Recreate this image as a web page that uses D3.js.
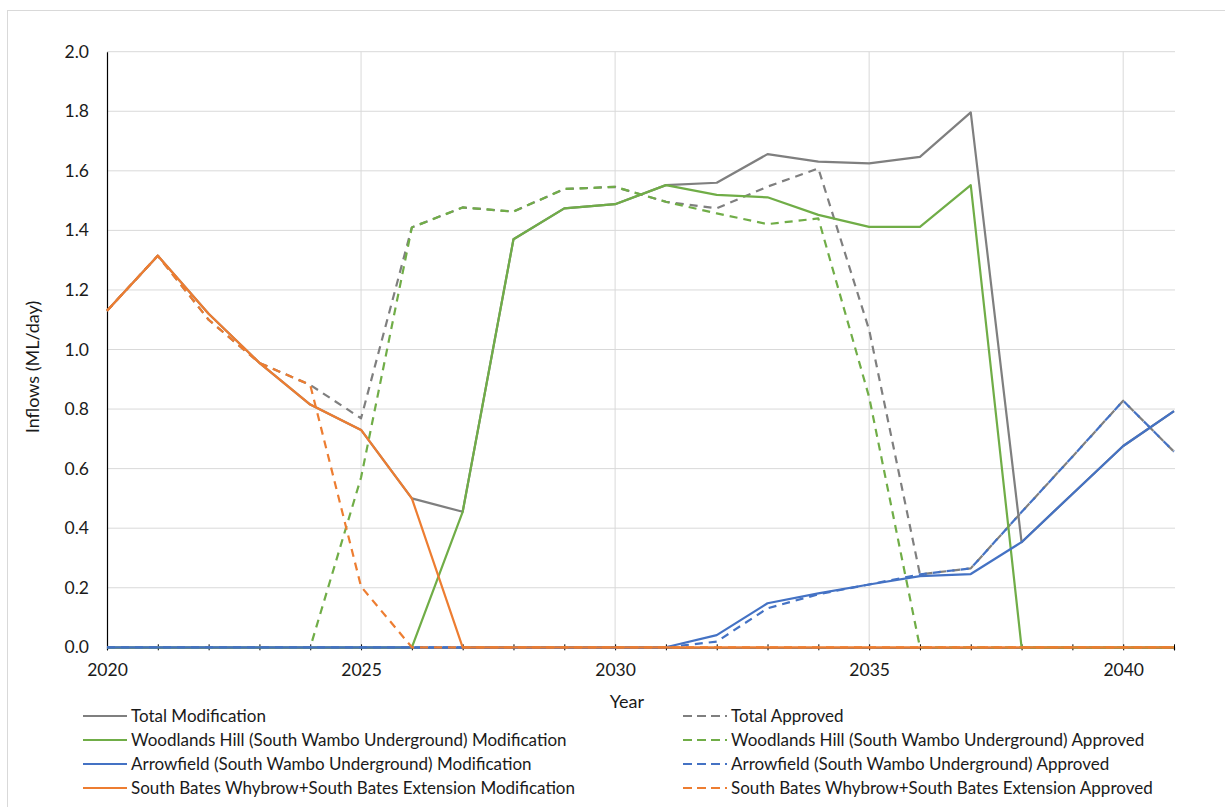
<!DOCTYPE html>
<html>
<head>
<meta charset="utf-8">
<script src="https://cdn.jsdelivr.net/npm/d3@7"></script>
<style>
  html, body { margin: 0; padding: 0; background: #fff; }
  svg text { font-family: Lato, "Open Sans", sans-serif; fill: #1a1a1a; }
</style>
</head>
<body>
<svg id="chart" width="1225" height="807"></svg>
<script>
const years = [2020,2021,2022,2023,2024,2025,2026,2027,2028,2029,2030,2031,2032,2033,2034,2035,2036,2037,2038,2039,2040,2041];
const totalModification = [1.13,1.315,1.12,0.955,0.815,0.73,0.50,0.455,1.37,1.474,1.488,1.552,1.56,1.656,1.631,1.625,1.647,1.796,0.353,0.515,0.676,0.793];
const totalApproved = [1.13,1.315,1.10,0.955,0.881,0.769,1.41,1.477,1.463,1.539,1.546,1.496,1.474,1.547,1.608,1.066,0.245,0.265,0.454,0.64,0.828,0.657];
const woodlandsModification = [0,0,0,0,0,0,0,0.455,1.37,1.474,1.488,1.552,1.519,1.511,1.452,1.412,1.412,1.552,0,0,0,0];
const woodlandsApproved = [0,0,0,0,0,0.57,1.41,1.477,1.463,1.539,1.546,1.496,1.457,1.421,1.44,0.84,0,0,0,0,0,0];
const arrowfieldModification = [0,0,0,0,0,0,0,0,0,0,0,0,0.041,0.148,0.181,0.211,0.239,0.246,0.353,0.515,0.676,0.793];
const arrowfieldApproved = [0,0,0,0,0,0,0,0,0,0,0,0,0.019,0.131,0.178,0.211,0.245,0.265,0.454,0.64,0.828,0.657];
const southBatesModification = [1.13,1.315,1.12,0.955,0.815,0.73,0.50,0,0,0,0,0,0,0,0,0,0,0,0,0,0,0];
const southBatesApproved = [1.13,1.315,1.10,0.955,0.881,0.204,0,0,0,0,0,0,0,0,0,0,0,0,0,0,0,0];

const yTicks = [0,0.2,0.4,0.6,0.8,1.0,1.2,1.4,1.6,1.8,2.0];
const xTickLabels = [2020,2025,2030,2035,2040];

const seriesNames = [
  "Total Modification","Total Approved",
  "Woodlands Hill (South Wambo Underground) Modification","Woodlands Hill (South Wambo Underground) Approved",
  "Arrowfield (South Wambo Underground) Modification","Arrowfield (South Wambo Underground) Approved",
  "South Bates Whybrow+South Bates Extension Modification","South Bates Whybrow+South Bates Extension Approved"
];
const seriesValues = [totalModification,totalApproved,woodlandsModification,woodlandsApproved,
  arrowfieldModification,arrowfieldApproved,southBatesModification,southBatesApproved];
const colors = ["#7F7F7F","#7F7F7F","#70AD47","#70AD47","#4472C4","#4472C4","#ED7D31","#ED7D31"];
const dashed = [false,true,false,true,false,true,false,true];

const svg = d3.select("#chart");
const L = 107, R = 1174, T = 51.7, B = 647.3;
const x = d3.scaleLinear().domain([2020,2041]).range([L,R]);
const y = d3.scaleLinear().domain([0,2]).range([B,T]);

// outer border
svg.append("rect").attr("x",7.5).attr("y",10.5).attr("width",1230).attr("height",820)
  .attr("fill","#fff").attr("stroke","#D9D9D9").attr("stroke-width",1);

// horizontal gridlines
svg.append("g").selectAll("line").data(yTicks.filter(d=>d>0)).join("line")
  .attr("x1",L).attr("x2",R+1).attr("y1",d=>y(d)).attr("y2",d=>y(d))
  .attr("stroke","#D9D9D9").attr("stroke-width",1);
// vertical gridlines
svg.append("g").selectAll("line").data(xTickLabels.filter(d=>d>2020)).join("line")
  .attr("x1",d=>x(d)).attr("x2",d=>x(d)).attr("y1",T).attr("y2",B)
  .attr("stroke","#D9D9D9").attr("stroke-width",1);

// y axis
const yAxis = d3.axisLeft(y).tickValues(yTicks).tickFormat(d3.format(".1f")).tickSize(0).tickPadding(18);
const gy = svg.append("g").attr("transform",`translate(${L},0)`).call(yAxis);
gy.select(".domain").attr("stroke","#000").attr("stroke-width",1.2);
gy.selectAll("text").style("font-size","17.5px").style("font-family","Lato, sans-serif").attr("fill","#1a1a1a");

// x axis
const xAxis = d3.axisBottom(x).tickValues(years).tickSize(3)
  .tickFormat(d => xTickLabels.includes(d) ? d : "");
const gx = svg.append("g").attr("transform",`translate(0,${B})`).call(xAxis);
gx.select(".domain").attr("stroke","#000").attr("stroke-width",1.2);
gx.selectAll(".tick line").attr("stroke","#000").attr("y1",-3).attr("y2",3);
gx.selectAll("text").attr("y",16).style("font-size","17.5px").style("font-family","Lato, sans-serif").attr("fill","#1a1a1a");

// axis titles
svg.append("text").attr("x",627).attr("y",708).attr("text-anchor","middle")
  .style("font-size","18px").text("Year");
svg.append("text").attr("transform","translate(39,367) rotate(-90)").attr("text-anchor","middle")
  .style("font-size","18px").text("Inflows (ML/day)");

// lines
const line = d3.line().x((d,i)=>x(years[i])).y(d=>y(d));
const gl = svg.append("g");
seriesValues.forEach((vals,k)=>{
  gl.append("path").datum(vals).attr("d",line).attr("fill","none")
    .attr("stroke",colors[k]).attr("stroke-width",2.2)
    .attr("stroke-linejoin","round")
    .attr("stroke-dasharray", dashed[k] ? "8,6" : null);
});

// legend
const legRowsY = [716,740,764,788];
const leg = svg.append("g");
seriesNames.forEach((name,k)=>{
  const col = k % 2, row = Math.floor(k/2);
  const lx = col === 0 ? 83 : 683;
  const yy = legRowsY[row];
  leg.append("line").attr("x1",lx).attr("x2",lx+44).attr("y1",yy).attr("y2",yy)
    .attr("stroke",colors[k]).attr("stroke-width",2.2)
    .attr("stroke-dasharray", dashed[k] ? "9,5" : null);
  leg.append("text").attr("x",lx+48).attr("y",yy).attr("dy","0.35em")
    .style("font-size","17px").text(name);
});
</script>
</body>
</html>
